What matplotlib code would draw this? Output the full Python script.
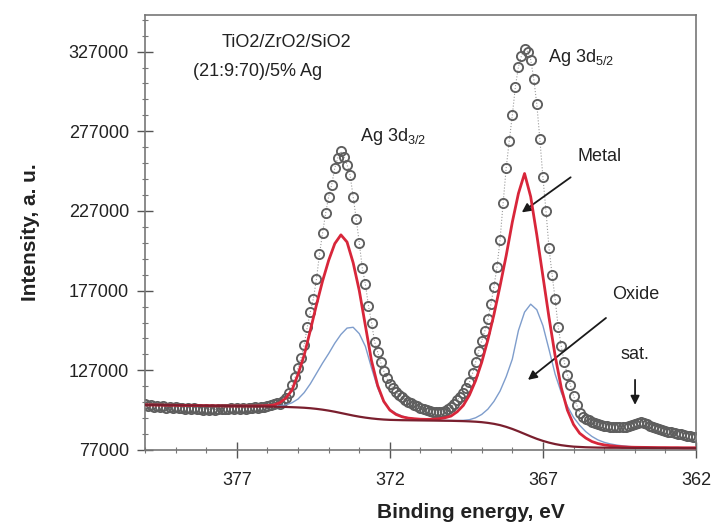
import numpy as np
import matplotlib
matplotlib.use("Agg")
import matplotlib.pyplot as plt
from matplotlib.ticker import FixedLocator

plt.rcParams['font.family'] = ['Liberation Sans', 'DejaVu Sans']

# Ag 3d region, measured spectrum (0.1 eV step, 380 -> 362 eV)
be_start, be_stop, be_step = 380.0, 362.0, 0.1
counts = [
    105800, 104900, 105300, 104200, 104700, 103900, 104400, 103600, 104100, 103300,
    103800, 103100, 103500, 102800, 103300, 102600, 103100, 102500, 102900, 102400,
    102900, 102300, 102800, 102400, 102900, 102500, 103000, 102600, 103100, 102700,
    103200, 102900, 103400, 103000, 103600, 103300, 103800, 103600, 104200, 104100,
    104700, 105000, 105600, 106300, 106000,
    107500, 109500, 113000, 117500, 122500, 128500, 135000, 143000, 154000, 163500,
    172000, 184000, 200000, 213000, 225500, 236000, 243500, 254000, 260500, 264500,
    261000, 256000, 249500, 236000, 222000, 207000, 191000, 181000, 167500, 157000,
    145000, 138500, 132000, 126500, 122000, 118500, 115800, 113500, 111600, 110000,
    108600, 107400, 106300, 105300, 104400, 103600, 102800, 102100, 101500, 101000,
    100700, 100600, 100800, 101400, 102500, 104000, 106000, 108200,
    110500, 113000, 116000, 119500, 125000, 132000, 139000, 145500, 151500, 159000,
    168500, 179500, 192000, 209000, 232000, 254000, 271000, 287000, 305000, 317500,
    324500, 328500, 327000, 322000, 310000, 294000, 272000, 248000, 227000, 203500,
    187000, 171500, 154000, 142000, 132000, 124000, 117500, 111000, 105500, 100500,
    98000, 96500, 95500, 94500, 93800, 93200, 92700, 92300, 92000, 91700,
    91500, 91300, 91200, 91300, 91500, 92000, 92800, 93600, 94200, 94400,
    94000, 93200, 92300, 91500, 90800, 90200, 89600, 89000, 88500, 88000,
    87600, 87200, 86800, 86400, 86000, 85700, 85400, 85200,
]

# fitted curves on a 0.2 eV grid
fit_step = 0.2
background = [
    105300, 105250, 105200, 105150, 105100, 105050, 105000, 104950, 104900, 104850,
    104800, 104750, 104700, 104650, 104600, 104550, 104500, 104450, 104400, 104350,
    104300, 104200, 104100, 104000, 103850, 103700, 103500, 103200, 102800, 102300,
    101700, 101000, 100200, 99400, 98600, 97900, 97300, 96800, 96400, 96100,
    95900, 95800, 95700, 95650, 95600, 95550, 95500, 95450, 95400, 95350,
    95300, 95200, 95100, 94950, 94750, 94450, 94000, 93400, 92600, 91500,
    90200, 88700, 87100, 85500, 84000, 82700, 81600, 80700, 80000, 79500,
    79100, 78900, 78700, 78600, 78500, 78450, 78400, 78400, 78350, 78350,
    78300, 78300, 78300, 78250, 78250, 78200, 78200, 78200, 78150, 78150,
    78100,
]
metal = [
    105300, 105250, 105200, 105150, 105100, 105050, 105000, 104950, 104900, 104850,
    104800, 104750, 104700, 104650, 104600, 104600, 104600, 104600, 104600, 104700,
    104800, 105200, 106600, 109500, 114500, 124500, 136500, 152000, 168000, 183000,
    196000, 206500, 212000, 207500, 194500, 177000, 155000, 133000, 117500, 107500,
    102000, 99300, 97800, 97000, 96600, 96300, 96200, 96300, 96600, 97200,
    98300, 101000, 105000, 111500, 120500, 132000, 146000, 162000, 180000, 199000,
    220000, 238000, 250500, 236000, 212000, 186000, 160000, 136000, 116000, 102000,
    93000, 87500, 84500, 82300, 81000, 80200, 79700, 79300, 79000, 78800,
    78700, 78650, 78600, 78550, 78500, 78500, 78450, 78450, 78400, 78400,
    78400,
]
oxide = [
    105300, 105250, 105200, 105150, 105100, 105050, 105000, 104950, 104900, 104850,
    104800, 104750, 104700, 104650, 104600, 104550, 104500, 104450, 104400, 104400,
    104400, 104400, 104700, 105300, 106600, 109000, 113000, 118500, 125000, 131500,
    137500, 144000, 149500, 153500, 154000, 150000, 142000, 128500, 116000, 107000,
    102500, 100000, 98300, 97200, 96600, 96200, 95900, 95700, 95600, 95500,
    95500, 95500, 95600, 96000, 97200, 99300, 102600, 107500, 114000, 123000,
    134000, 152000, 163500, 168500, 165000, 155000, 140000, 124500, 113000, 104500,
    97500, 92500, 88500, 85500, 83300, 81800, 80800, 80100, 79600, 79200,
    78900, 78700, 78600, 78500, 78400, 78400, 78300, 78300, 78200, 78200,
    78200,
]

y_ticks = [77000, 127000, 177000, 227000, 277000, 327000]
x_ticks = [377, 372, 367, 362]

be = np.round(np.arange(0, len(counts)) * -be_step + be_start, 1)
be_fit = np.round(np.arange(0, len(metal)) * -fit_step + be_start, 1)

fig = plt.figure(figsize=(7.13, 5.25), dpi=100)
ax = fig.add_axes([0.2034, 0.1429, 0.7727, 0.8286])

ax.plot(be, counts, ls=':', lw=0.8, color='#9a9a9a', marker='o', ms=6.6,
        mfc='none', mec='#5e5e5e', mew=1.35, zorder=2)
ax.plot(be_fit, oxide, color='#7e9dcc', lw=1.0, zorder=3)
ax.plot(be_fit, metal, color='#d8263a', lw=2.0, zorder=4)
ax.plot(be_fit, background, color='#7a1f2e', lw=1.6, zorder=5)

ax.set_xlim(be_start, be_stop)
ax.set_ylim(77000, 350000)
ax.set_xticks(x_ticks)
ax.set_yticks(y_ticks)
ax.set_xticklabels([str(t) for t in x_ticks])
ax.set_yticklabels([str(t) for t in y_ticks])
ax.xaxis.set_minor_locator(FixedLocator(np.arange(362, 381, 1)))
ax.yaxis.set_minor_locator(FixedLocator(np.arange(77000, 350001, 10000)))
ax.tick_params(which='major', direction='inout', length=11, width=1.0,
               color='#555555', labelsize=13, labelcolor='#222222', pad=6)
ax.tick_params(axis='x', which='major', pad=10)
ax.tick_params(which='minor', direction='inout', length=5, width=0.8,
               color='#777777')
for side in ax.spines.values():
    side.set_color('#777777')
    side.set_linewidth(1.2)

ax.set_xlabel('Binding energy, eV', fontsize=15, fontweight='bold', color='#222222')
ax.set_ylabel('Intensity, a. u.', fontsize=15, fontweight='bold', color='#222222')
ax.xaxis.set_label_coords(0.592, -0.122)
ax.yaxis.set_label_coords(-0.19, 0.5)

txt = dict(fontsize=13, color='#222222')
ax.text(377.49, 333000, 'TiO2/ZrO2/SiO2', va='center', **txt)
ax.text(378.44, 314800, '(21:9:70)/5% Ag', va='center', **txt)
ax.text(366.84, 323600, r'Ag 3d$\mathregular{_{5/2}}$', va='center', **txt)
ax.text(372.98, 273900, r'Ag 3d$\mathregular{_{3/2}}$', va='center', **txt)

arrow = dict(arrowstyle='-|>', color='#1a1a1a', lw=1.3, mutation_scale=13)
ax.annotate('Metal', xy=(367.69, 226100), xytext=(365.86, 261300),
            va='center', ha='left', arrowprops=dict(arrow, shrinkA=12, shrinkB=0), **txt)
ax.annotate('Oxide', xy=(367.49, 121000), xytext=(364.75, 174500),
            va='center', ha='left', arrowprops=dict(arrow, shrinkA=14, shrinkB=0), **txt)
ax.annotate('sat.', xy=(363.99, 105300), xytext=(363.99, 136800),
            va='center', ha='center', arrowprops=dict(arrow, shrinkA=10, shrinkB=0), **txt)

fig.savefig('out.png', dpi=100)
